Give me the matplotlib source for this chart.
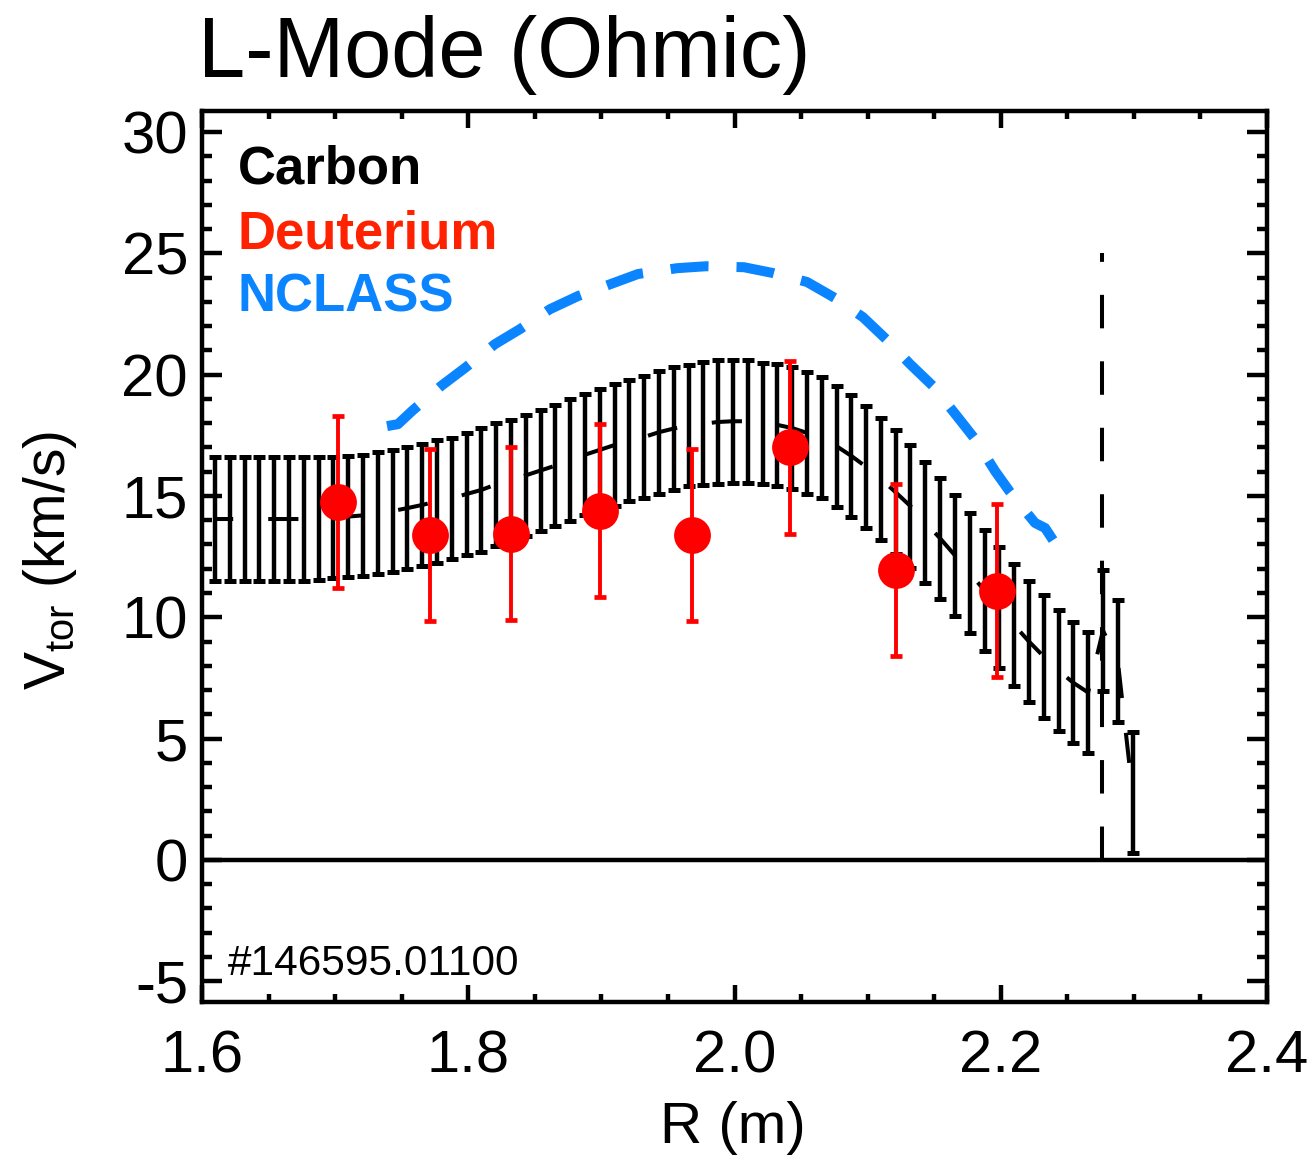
import matplotlib
matplotlib.use('Agg')
import matplotlib.pyplot as plt
from matplotlib.ticker import MultipleLocator, FormatStrFormatter

plt.rcParams['font.family'] = ['Liberation Sans', 'DejaVu Sans']
plt.rcParams['mathtext.fontset'] = 'custom'
plt.rcParams['mathtext.rm'] = 'Liberation Sans'
plt.rcParams['mathtext.it'] = 'Liberation Sans:italic'
plt.rcParams['axes.unicode_minus'] = False

# ---------------- data ----------------
carbon_R = [1.6098, 1.6209, 1.6320, 1.6431, 1.6542, 1.6653, 1.6765, 1.6876, 1.6987, 1.7098,
            1.7209, 1.7320, 1.7432, 1.7543, 1.7654, 1.7765, 1.7876, 1.7987, 1.8099, 1.8210,
            1.8321, 1.8432, 1.8543, 1.8654, 1.8766, 1.8877, 1.8988, 1.9099, 1.9210, 1.9321,
            1.9433, 1.9544, 1.9655, 1.9766, 1.9877, 1.9988, 2.0100, 2.0211, 2.0322, 2.0433,
            2.0544, 2.0655, 2.0767, 2.0878, 2.0989, 2.1100, 2.1211, 2.1322, 2.1434, 2.1545,
            2.1656, 2.1767, 2.1878, 2.1989, 2.2101, 2.2212, 2.2323, 2.2434, 2.2545, 2.2656,
            2.2768, 2.2879, 2.2990]
carbon_v = [14.05, 14.05, 14.05, 14.05, 14.05, 14.05, 14.05, 14.08, 14.10, 14.15,
            14.20, 14.30, 14.38, 14.50, 14.63, 14.78, 14.90, 15.08, 15.25, 15.48,
            15.65, 15.85, 16.05, 16.25, 16.48, 16.70, 16.90, 17.10, 17.30, 17.43,
            17.63, 17.78, 17.90, 17.98, 18.05, 18.08, 18.08, 18.00, 17.93, 17.80,
            17.60, 17.40, 17.05, 16.65, 16.20, 15.70, 15.15, 14.58, 13.90, 13.25,
            12.55, 11.83, 11.10, 10.40, 9.68, 9.00, 8.38, 7.80, 7.30, 6.90,
            9.45, 8.20, 2.78]
carbon_err = [2.55, 2.55, 2.55, 2.55, 2.55, 2.55, 2.55, 2.53, 2.50, 2.50,
              2.50, 2.50, 2.53, 2.50, 2.53, 2.53, 2.50, 2.53, 2.55, 2.53,
              2.50, 2.50, 2.50, 2.50, 2.53, 2.50, 2.50, 2.50, 2.50, 2.53,
              2.53, 2.53, 2.50, 2.53, 2.55, 2.53, 2.53, 2.50, 2.53, 2.50,
              2.50, 2.50, 2.50, 2.50, 2.50, 2.50, 2.55, 2.53, 2.50, 2.50,
              2.50, 2.48, 2.50, 2.50, 2.53, 2.50, 2.53, 2.50, 2.50, 2.50,
              2.50, 2.50, 2.48]

deut_R = [1.702, 1.771, 1.832, 1.899, 1.968, 2.042, 2.121, 2.197]
deut_v = [14.75, 13.40, 13.45, 14.40, 13.40, 17.00, 11.95, 11.10]
deut_err = [3.55, 3.55, 3.55, 3.55, 3.55, 3.55, 3.55, 3.55]

nclass_R = [1.7390, 1.7472, 1.7577, 1.7795, 1.7983, 1.8201, 1.8389, 1.8614, 1.8824, 1.9087,
            1.9275, 1.9568, 1.9786, 2.0071, 2.0289, 2.0545, 2.0755, 2.0965, 2.1138, 2.1318,
            2.1491, 2.1671, 2.1806, 2.1957, 2.2070, 2.2257, 2.2333, 2.2393]
nclass_v = [17.88, 17.96, 18.50, 19.53, 20.31, 21.26, 21.88, 22.70, 23.24, 23.77,
            24.15, 24.39, 24.47, 24.43, 24.19, 23.82, 23.16, 22.37, 21.47, 20.44,
            19.53, 18.29, 17.35, 16.03, 15.16, 13.89, 13.68, 13.18]

separatrix_R = 2.2758
separatrix_v = [0, 25.0]

title = "L-Mode (Ohmic)"
legend_labels = ["Carbon", "Deuterium", "NCLASS"]
legend_colors = ["black", "#FF2200", "#0A84FF"]
shot_label = "#146595.01100"
xticks = [1.6, 1.8, 2.0, 2.2, 2.4]
yticks = [-5, 0, 5, 10, 15, 20, 25, 30]

# ---------------- figure ----------------
W, H = 1313, 1155
fig = plt.figure(figsize=(W / 100, H / 100), dpi=100)
ax = fig.add_axes([202 / W, 1 - 1001.5 / H, (1267 - 202) / W, (1001.5 - 111) / H])
ax.set_xlim(1.6, 2.4)
ax.set_ylim(-5.84, 30.87)

LW = 3.2

# carbon error bars
ax.errorbar(carbon_R, carbon_v, yerr=carbon_err, fmt='none', ecolor='black',
            elinewidth=LW, capsize=4.6, capthick=3.6, zorder=3)
ax.plot(carbon_R, carbon_v, color='black', lw=2.9,
        linestyle=(3, (7.5, 8.7)), dash_capstyle='butt', zorder=3)

# NCLASS
ax.plot(nclass_R, nclass_v, color=legend_colors[2], lw=7.2,
        linestyle=(0, (3.8, 2.8)), dash_capstyle='butt', zorder=2)

# separatrix (drawn from bottom up)
ax.plot([separatrix_R, separatrix_R], separatrix_v, color='black', lw=2.9,
        linestyle=(0, (8.31, 8.19)), dash_capstyle='butt', zorder=2)

# zero line
ax.axhline(0, color='black', lw=LW, zorder=2)

# deuterium
ax.errorbar(deut_R, deut_v, yerr=deut_err, fmt='none', ecolor='#FF0000',
            elinewidth=2.8, capsize=4.0, capthick=3.4, zorder=4)
ax.plot(deut_R, deut_v, 'o', color='#FF0000', markersize=26.5,
        markeredgewidth=0, zorder=5)

# ticks
ax.set_xticks(xticks)
ax.set_yticks(yticks)
ax.xaxis.set_minor_locator(MultipleLocator(0.05))
ax.yaxis.set_minor_locator(MultipleLocator(1))
ax.xaxis.set_major_formatter(FormatStrFormatter('%.1f'))
ax.yaxis.set_major_formatter(FormatStrFormatter('%d'))
ax.tick_params(which='both', direction='in', top=True, right=True, width=LW,
               labelsize=43, color='black')
ax.tick_params(axis='y', which='major', length=14.4, pad=10)
ax.tick_params(axis='y', which='minor', length=7.2)
ax.tick_params(axis='x', which='major', length=12.2, pad=20)
ax.tick_params(axis='x', which='minor', length=6)
for s in ax.spines.values():
    s.set_linewidth(LW)

# legend texts
ly = [27.9, 25.2, 22.6]
for lab, col, yy in zip(legend_labels, legend_colors, ly):
    ax.text(1.627, yy, lab, color=col, fontsize=38, fontweight='bold', va='baseline', ha='left')

ax.text(1.6195, -4.74, shot_label, fontsize=30.5, va='baseline', ha='left', color='black')

fig.text(198 / W, 1 - 77 / H, title, fontsize=61, va='baseline', ha='left')
fig.text(733 / W, 1 - 1143 / H, "R (m)", fontsize=42, va='baseline', ha='center')
fig.text(50 / W, 1 - 560 / H, r"V$_{\rm tor}$ (km/s)", fontsize=41, rotation=90,
         va='center', ha='center')

fig.savefig('out.png', dpi=100)
